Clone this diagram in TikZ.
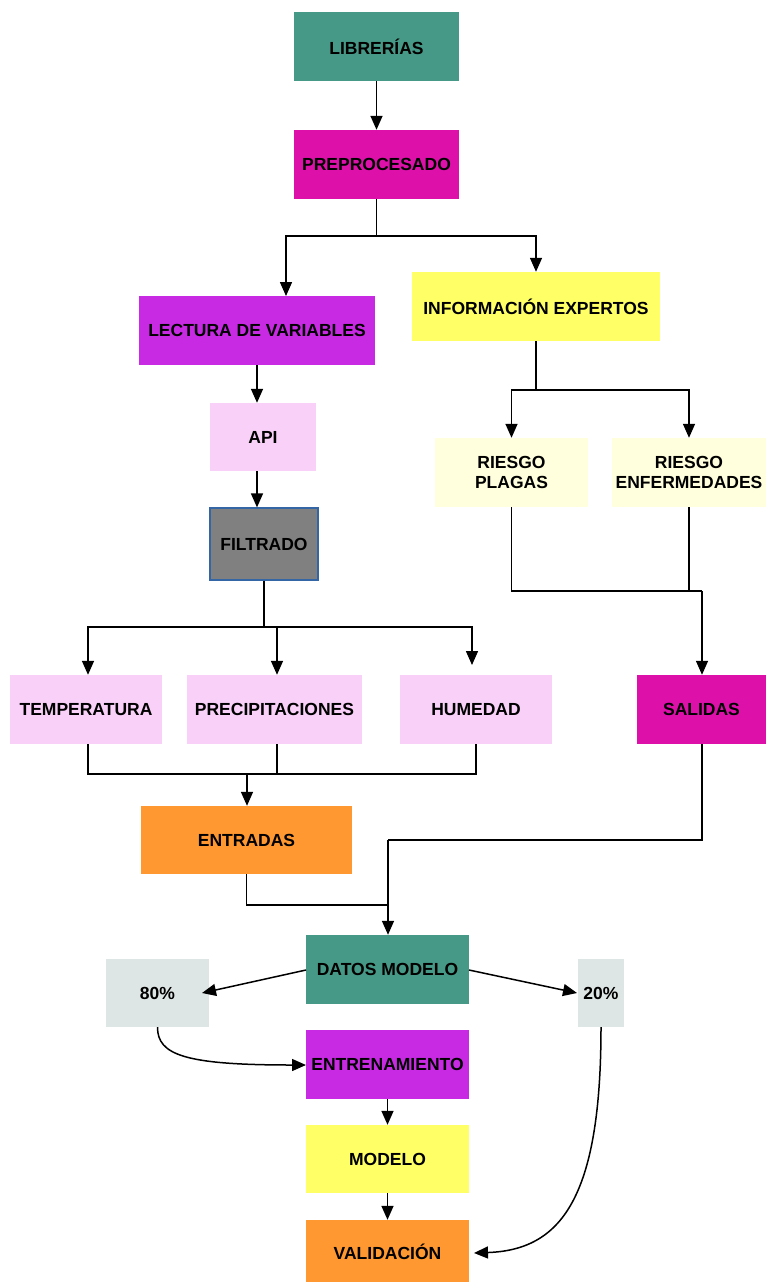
\documentclass[tikz,border=0pt]{standalone}
\usepackage{fontspec}
\setmainfont{Liberation Sans}
\usetikzlibrary{arrows.meta,calc}

\definecolor{teal}{RGB}{69,153,134}
\definecolor{magent}{RGB}{221,17,170}
\definecolor{violet}{RGB}{200,42,228}
\definecolor{lemon}{RGB}{255,255,102}
\definecolor{pinkish}{RGB}{248,208,248}
\definecolor{cream}{RGB}{255,255,221}
\definecolor{orng}{RGB}{255,152,48}
\definecolor{paleg}{RGB}{222,230,229}
\definecolor{graybox}{RGB}{128,128,128}
\definecolor{bluedge}{RGB}{52,101,164}

\tikzset{
  box/.style={rectangle, inner sep=0pt, align=center, text=black,
    font=\bfseries\fontsize{17.5}{20}\selectfont},
  conn/.style={line width=1.5pt, black},
  arr/.style={conn, -{Triangle[length=14pt,width=12pt]}},
}

\begin{document}
\begin{tikzpicture}[x=1pt,y=-1pt]
\useasboundingbox (0,0) rectangle (768,1282);
\fill[white] (0,0) rectangle (768,1282);

% boxes
\node[box, fill=teal,   minimum width=165, minimum height=69] (lib) at (376.5,46.5) {LIBRERÍAS};
\node[box, fill=magent, minimum width=165, minimum height=69] (pre) at (376.5,164.5) {PREPROCESADO};
\node[box, fill=violet, minimum width=236, minimum height=69] (lec) at (257,330.5) {LECTURA DE VARIABLES};
\node[box, fill=lemon,  minimum width=248, minimum height=69] (inf) at (536,306.5) {INFORMACIÓN EXPERTOS};
\node[box, fill=pinkish, minimum width=106, minimum height=68] (api) at (263,437) {API};
\node[box, fill=graybox, draw=bluedge, line width=1.2pt, minimum width=108, minimum height=72] (fil) at (264,544) {FILTRADO};
\node[box, fill=cream, minimum width=153, minimum height=69] (rp) at (511.5,472.5) {RIESGO\\PLAGAS};
\node[box, fill=cream, minimum width=154, minimum height=69] (re) at (689,472.5) {RIESGO\\ENFERMEDADES};
\node[box, fill=pinkish, minimum width=152, minimum height=69] (tem) at (86,709.5) {TEMPERATURA};
\node[box, fill=pinkish, minimum width=175, minimum height=69] (prc) at (274.5,709.5) {PRECIPITACIONES};
\node[box, fill=pinkish, minimum width=152, minimum height=69] (hum) at (476,709.5) {HUMEDAD};
\node[box, fill=magent, minimum width=129, minimum height=69] (sal) at (701.5,709.5) {SALIDAS};
\node[box, fill=orng, minimum width=211, minimum height=68] (ent) at (246.5,840) {ENTRADAS};
\node[box, fill=teal, minimum width=163, minimum height=69] (dat) at (387.5,969.5) {DATOS MODELO};
\node[box, fill=paleg, minimum width=103, minimum height=68] (p80) at (157.5,993) {80\%};
\node[box, fill=paleg, minimum width=46, minimum height=68] (p20) at (601,993) {20\%};
\node[box, fill=violet, minimum width=163, minimum height=69] (tra) at (387.5,1064.5) {ENTRENAMIENTO};
\node[box, fill=lemon, minimum width=163, minimum height=68] (mod) at (387.5,1159) {MODELO};
\node[box, fill=orng, minimum width=163, minimum height=64] (val) at (387.5,1252) {VALIDACIÓN};

% junction points
\coordinate (j1) at (376.5,236);
\coordinate (lecin) at (286,296);
\coordinate (j2) at (264,627);
\coordinate (humin) at (472,665);
\coordinate (j3) at (536,390);
\coordinate (j4) at (702,591);
\coordinate (j5) at (247,774);
\coordinate (j6) at (388,905);
\coordinate (j7) at (388,840);
\coordinate (datl) at (306,970);
\coordinate (datr) at (469,970);
\coordinate (in80) at (202,993);
\coordinate (in20) at (577,993);
\coordinate (traw) at (306,1065);
\coordinate (vale) at (474,1253);

% top chain
\draw[arr] (lib) -- (pre);
\draw[conn] (pre) -- (j1);
\draw[arr] (j1) -| (lecin);
\draw[arr] (j1) -| (inf.north);

% left branch
\draw[arr] (lec.south) -- (lec.south |- api.north);
\draw[arr] (api.south -| lec.south) -- (lec.south |- fil.north);
\draw[conn] (fil) -- (j2);
\draw[arr] (j2) -| ([xshift=2pt]tem.north);
\draw[arr] (j2) -| ([xshift=2.5pt]prc.north);
\draw[arr] (j2) -| (humin);

% right branch
\draw[conn] (inf) -- (j3);
\draw[arr] (j3) -| (rp.north);
\draw[arr] (j3) -| (re.north);
\draw[conn] (rp.south) |- (j4);
\draw[conn] (re.south) -- (re.south |- j4);
\draw[arr] (j4) -- (sal.north -| j4);

% merge into ENTRADAS
\draw[conn] ([xshift=2pt]tem.south) |- (j5);
\draw[conn] ([xshift=2.5pt]prc.south) |- (j5);
\draw[conn] (hum.south) |- (j5);
\draw[arr] (j5) -- (ent.north -| j5);

% merge into DATOS MODELO
\draw[conn] (sal.south -| j4) |- (j7);
\draw[arr] (j7) -- (dat.north -| j7);
\draw[conn] (ent.south) |- (j6);

% model stage
\draw[arr] (datl) -- (in80);
\draw[arr] (datr) -- (in20);
\draw[arr] (p80.south) .. controls (157.5,1055) and (185,1065) .. (traw);
\draw[arr] (tra.south) -- (mod.north);
\draw[arr] (mod.south) -- (val.north);
\draw[arr] (p20.south) .. controls (601,1200) and (560,1250) .. (vale);
\end{tikzpicture}
\end{document}
